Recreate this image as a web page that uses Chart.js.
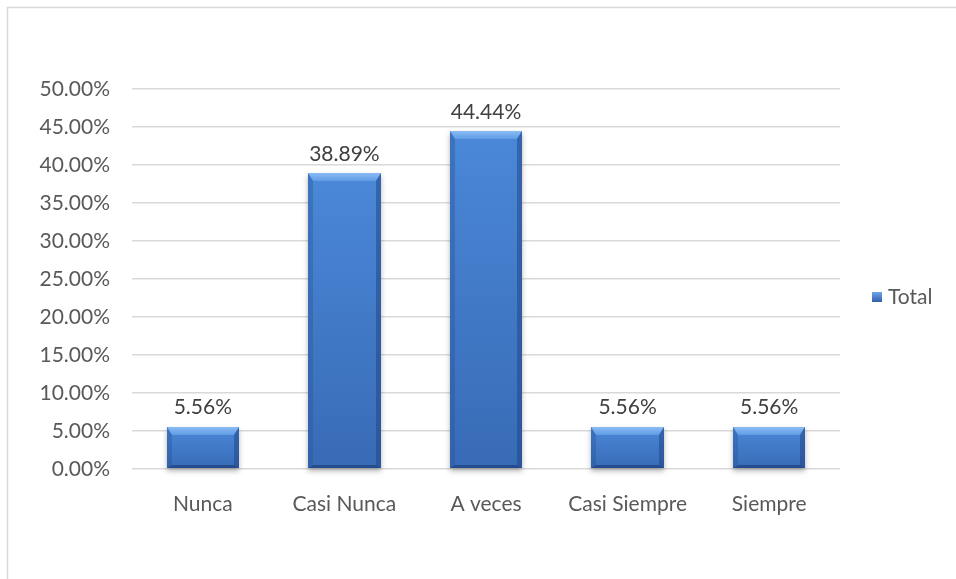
<!DOCTYPE html>
<html>
<head>
<meta charset="utf-8">
<script src="https://cdn.jsdelivr.net/npm/chart.js@4/dist/chart.umd.min.js"></script>
<style>
  html, body { margin: 0; padding: 0; background: #fff; }
  #wrap { width: 956px; height: 579px; }
</style>
</head>
<body>
<div id="wrap"><canvas id="respChart" width="956" height="579"></canvas></div>
<script>
// chart data
const categories = ['Nunca', 'Casi Nunca', 'A veces', 'Casi Siempre', 'Siempre'];
const totals = [5.56, 38.89, 44.44, 5.56, 5.56];
const seriesName = 'Total';
const yMax = 50;
const yStep = 5;

const FONT = 'Lato, "Open Sans", sans-serif';
const TEXT = '#595959';

// outer frame (only left and top edges are visible in the original)
const framePlugin = {
  id: 'frame',
  beforeDraw(chart) {
    const ctx = chart.ctx;
    ctx.save();
    ctx.strokeStyle = '#d9d9d9';
    ctx.lineWidth = 1.5;
    ctx.beginPath();
    ctx.moveTo(7.5, chart.height + 5);
    ctx.lineTo(7.5, 7.5);
    ctx.lineTo(chart.width + 5, 7.5);
    ctx.stroke();
    ctx.restore();
  }
};

// bevelled bars + value labels
function drawBevelBar(ctx, left, top, right, bottom) {
  const w = right - left, h = bottom - top;
  const bt = Math.min(8, h / 3), bs = 5, bb = 3;

  ctx.save();
  ctx.shadowColor = 'rgba(0,0,0,0.3)';
  ctx.shadowBlur = 5;
  ctx.shadowOffsetY = 3;
  ctx.fillStyle = '#3e72c0';
  ctx.fillRect(left, top, w, h);
  ctx.restore();

  // front face
  let g = ctx.createLinearGradient(0, top, 0, bottom);
  g.addColorStop(0, '#4b88d8');
  g.addColorStop(1, '#386bb6');
  ctx.fillStyle = g;
  ctx.fillRect(left, top, w, h);

  // top bevel
  g = ctx.createLinearGradient(0, top, 0, top + bt);
  g.addColorStop(0, '#8abcf3');
  g.addColorStop(1, '#5f9be4');
  ctx.fillStyle = g;
  ctx.beginPath();
  ctx.moveTo(left, top);
  ctx.lineTo(right, top);
  ctx.lineTo(right - bs, top + bt);
  ctx.lineTo(left + bs, top + bt);
  ctx.closePath();
  ctx.fill();

  // left bevel
  ctx.fillStyle = 'rgba(40,85,155,0.4)';
  ctx.beginPath();
  ctx.moveTo(left, top);
  ctx.lineTo(left + bs, top + bt);
  ctx.lineTo(left + bs, bottom - bb);
  ctx.lineTo(left, bottom);
  ctx.closePath();
  ctx.fill();

  // right bevel
  ctx.fillStyle = 'rgba(30,65,130,0.5)';
  ctx.beginPath();
  ctx.moveTo(right, top);
  ctx.lineTo(right - bs, top + bt);
  ctx.lineTo(right - bs, bottom - bb);
  ctx.lineTo(right, bottom);
  ctx.closePath();
  ctx.fill();

  // bottom bevel
  ctx.fillStyle = 'rgba(25,55,115,0.6)';
  ctx.beginPath();
  ctx.moveTo(left, bottom);
  ctx.lineTo(left + bs, bottom - bb);
  ctx.lineTo(right - bs, bottom - bb);
  ctx.lineTo(right, bottom);
  ctx.closePath();
  ctx.fill();
}

const bevelPlugin = {
  id: 'bevel',
  afterDatasetsDraw(chart) {
    const ctx = chart.ctx;
    const meta = chart.getDatasetMeta(0);
    const data = chart.data.datasets[0].data;
    meta.data.forEach((bar, i) => {
      const p = bar.getProps(['x', 'y', 'base', 'width'], true);
      const left = Math.round(p.x - p.width / 2);
      const right = Math.round(p.x + p.width / 2);
      drawBevelBar(ctx, left, Math.round(p.y), right, Math.round(p.base));

      ctx.save();
      ctx.fillStyle = '#404040';
      ctx.font = '21px ' + FONT;
      ctx.textAlign = 'center';
      ctx.textBaseline = 'bottom';
      ctx.fillText(data[i].toFixed(2) + '%', p.x, p.y - 9);
      ctx.restore();
    });
  }
};

// legend on the right
const legendPlugin = {
  id: 'sideLegend',
  afterDraw(chart) {
    const ctx = chart.ctx;
    const area = chart.chartArea;
    const cy = (area.top + area.bottom) / 2 + 18;
    const bx = area.right + 32;
    const g = ctx.createLinearGradient(0, cy - 5, 0, cy + 5);
    g.addColorStop(0, '#6fa6ea');
    g.addColorStop(1, '#2f60aa');
    ctx.save();
    ctx.fillStyle = g;
    ctx.fillRect(bx, cy - 5, 10, 10);
    ctx.fillStyle = TEXT;
    ctx.font = '21px ' + FONT;
    ctx.textAlign = 'left';
    ctx.textBaseline = 'middle';
    ctx.fillText(chart.data.datasets[0].label, bx + 16, cy);
    ctx.restore();
  }
};

const ctx = document.getElementById('respChart').getContext('2d');
const chart = new Chart(ctx, {
  type: 'bar',
  data: {
    labels: categories,
    datasets: [{
      label: seriesName,
      data: totals,
      backgroundColor: 'rgba(0,0,0,0)',
      borderWidth: 0,
      categoryPercentage: 1,
      barPercentage: 0.51
    }]
  },
  options: {
    responsive: false,
    animation: false,
    layout: { padding: { top: 89, right: 116, left: 0, bottom: 0 } },
    plugins: {
      legend: { display: false },
      tooltip: { enabled: false }
    },
    scales: {
      x: {
        grid: { display: false, drawTicks: false },
        border: { display: false },
        ticks: { color: TEXT, font: { family: FONT, size: 21 }, padding: 23, maxRotation: 0 },
        afterFit: scale => { scale.height = 110; }
      },
      y: {
        min: 0,
        max: yMax,
        grid: { color: '#d9d9d9', lineWidth: 1.5, drawTicks: false },
        border: { display: false },
        ticks: {
          stepSize: yStep,
          color: TEXT,
          font: { family: FONT, size: 21 },
          padding: 22,
          callback: v => v.toFixed(2) + '%'
        },
        afterFit: scale => { scale.width = 132; }
      }
    }
  },
  plugins: [framePlugin, bevelPlugin, legendPlugin]
});
</script>
</body>
</html>
